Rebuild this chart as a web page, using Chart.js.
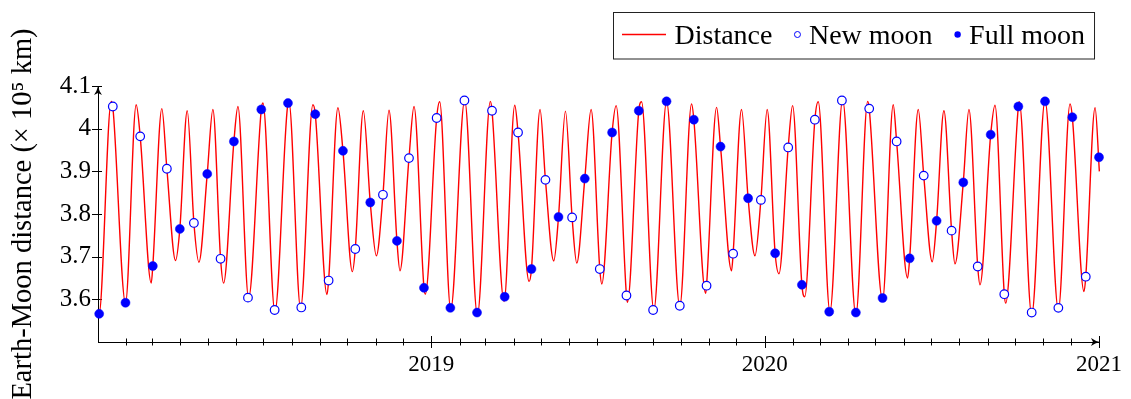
<!DOCTYPE html>
<html>
<head>
<meta charset="utf-8">
<script src="https://cdn.jsdelivr.net/npm/chart.js"></script>
<style>
html, body { margin: 0; padding: 0; background: #fff; }
#wrap { width: 1131px; height: 399px; }
</style>
</head>
<body>
<div id="wrap"><canvas id="chart"></canvas></div>
<script>
// x = days since 1 Jan 2018, y = Earth-Moon distance in 10^5 km
var apogees = [
    [14.5, 4.064], [41.8, 4.056], [69.9, 4.047], [97.7, 4.042], [125.8, 4.045], [153.2, 4.052], [180.6, 4.060], [209, 4.064],
    [235.3, 4.056], [262.7, 4.049], [290.5, 4.042], [318.6, 4.043], [346, 4.052], [374.1, 4.063], [401.5, 4.067], [429.6, 4.064],
    [456.3, 4.055], [484, 4.045], [511.8, 4.041], [539.9, 4.045], [567.3, 4.054], [595.1, 4.063], [622.5, 4.064], [649.9, 4.058],
    [677.3, 4.050], [704.6, 4.045], [732.7, 4.045], [760.5, 4.054], [788.6, 4.063], [815.3, 4.068], [842.7, 4.064], [870.7, 4.056],
    [898.1, 4.045], [926.2, 4.042], [953.6, 4.045], [982.1, 4.055], [1008.7, 4.063], [1036.9, 4.066], [1064.3, 4.058], [1091.7, 4.049]
];
var perigees = [
    [1.0, 3.563], [30.1, 3.591], [58.3, 3.638], [84.9, 3.691], [110.5, 3.687], [137.5, 3.638], [164.9, 3.603], [193.7, 3.571],
    [221.8, 3.579], [250.7, 3.611], [278.5, 3.665], [304.8, 3.702], [330.6, 3.667], [358.4, 3.612], [386.2, 3.576], [415.4, 3.563],
    [444.6, 3.595], [472, 3.642], [499, 3.690], [524.2, 3.685], [551.6, 3.636], [579.7, 3.593], [608.6, 3.575], [637, 3.583],
    [665.3, 3.614], [693.7, 3.667], [719.3, 3.702], [745.6, 3.660], [773.8, 3.606], [801.4, 3.571], [829.8, 3.563], [859, 3.598],
    [886.4, 3.650], [913.4, 3.688], [938.3, 3.683], [965.7, 3.634], [993.8, 3.591], [1022.3, 3.563], [1051.5, 3.575], [1079.6, 3.618]
];
var lineStart = [0, 3.565];
var lineEnd = [1096.4, 3.900];

var newMoons = [
    [16.2, 4.052], [46.2, 3.982], [75.4, 3.906], [105, 3.779], [134.2, 3.695], [164.2, 3.604], [193.4, 3.575], [222.6, 3.581],
    [252.5, 3.644], [281.7, 3.718], [312, 3.845], [340.5, 3.931], [370.8, 4.025], [401.2, 4.066], [431.4, 4.042], [459.9, 3.991],
    [489.9, 3.880], [519.1, 3.792], [549.4, 3.671], [578.6, 3.609], [607.8, 3.575], [637, 3.585], [666.3, 3.632], [695.4, 3.707],
    [725.8, 3.833], [755.7, 3.956], [784.9, 4.021], [814.5, 4.066], [844.4, 4.047], [874.4, 3.970], [904.1, 3.890], [934.6, 3.761],
    [963.2, 3.677], [992.3, 3.612], [1022.3, 3.569], [1051.5, 3.580], [1081.5, 3.653]
];
var fullMoons = [
    [1.3, 3.566], [30.1, 3.592], [60, 3.678], [89.6, 3.765], [119.6, 3.894], [148.8, 3.970], [178.8, 4.045], [208, 4.060],
    [237.9, 4.034], [268.2, 3.948], [298.1, 3.827], [327.3, 3.737], [356.9, 3.627], [385.8, 3.580], [415, 3.569], [445.3, 3.606],
    [474.6, 3.671], [504.2, 3.793], [533, 3.883], [562.9, 3.991], [592.1, 4.042], [622.5, 4.064], [652.4, 4.021], [681.6, 3.958],
    [711.8, 3.837], [741.4, 3.708], [770.7, 3.634], [800.6, 3.571], [829.8, 3.569], [859, 3.603], [888.7, 3.696], [918.2, 3.784],
    [947.4, 3.874], [977.4, 3.986], [1007.7, 4.052], [1036.9, 4.064], [1066.8, 4.027], [1096, 3.933]
];

var yTicks = [3.6, 3.7, 3.8, 3.9, 4.0, 4.1];
var yearTicks = [365, 730, 1096];
var yearLabels = ['2019', '2020', '2021'];
var legendLabels = ['Distance', 'New moon', 'Full moon'];
var yTitle = 'Earth-Moon distance (× 10⁵ km)';

var FONT = '"Liberation Serif", "DejaVu Serif", serif';

// month starts for the small ticks on the time axis
var monthTicks = [];
for (var m = 1; m <= 36; m++) {
    monthTicks.push((Date.UTC(2018, m, 1) - Date.UTC(2018, 0, 1)) / 864e5);
}

// the curve goes through the extrema; moon points on the curve help its shape
var extrema = [lineStart].concat(apogees, perigees, [lineEnd]).sort(function(a, b) { return a[0] - b[0]; });

function fitsCurve(p) {
    for (var i = 0; i < extrema.length - 1; i++) {
        var a = extrema[i], b = extrema[i + 1];
        if (p[0] > a[0] && p[0] < b[0]) {
            if (p[0] - a[0] < 0.8 || b[0] - p[0] < 0.8) return false;
            var lo = Math.min(a[1], b[1]), hi = Math.max(a[1], b[1]);
            return p[1] > lo + 0.004 && p[1] < hi - 0.004;
        }
    }
    return false;
}

function toXY(p) { return { x: p[0], y: p[1] }; }

var distance = extrema.concat(newMoons.filter(fitsCurve), fullMoons.filter(fitsCurve))
    .sort(function(a, b) { return a[0] - b[0]; })
    .map(toXY);

function drawArrow(ctx, x, y, angle) {
    ctx.save();
    ctx.translate(x, y);
    ctx.rotate(angle);
    ctx.beginPath();
    ctx.moveTo(0, 0);
    ctx.quadraticCurveTo(-1, 5, -4, 9);
    ctx.lineTo(0, 7);
    ctx.lineTo(4, 9);
    ctx.quadraticCurveTo(1, 5, 0, 0);
    ctx.closePath();
    ctx.fill();
    ctx.restore();
}

var axisDecor = {
    id: 'axisDecor',
    beforeDatasetsDraw: function(chart) {
        var ctx = chart.ctx, xs = chart.scales.x, ys = chart.scales.y, area = chart.chartArea;
        var y0 = area.bottom, x0 = area.left;
        ctx.save();
        ctx.strokeStyle = '#000';
        ctx.fillStyle = '#000';
        ctx.lineWidth = 1;
        ctx.beginPath();
        monthTicks.forEach(function(d) {
            var px = Math.round(xs.getPixelForValue(d)) + 0.5;
            var h = yearTicks.indexOf(d) >= 0 ? 6 : 3.5;
            ctx.moveTo(px, y0 - h);
            ctx.lineTo(px, y0 + h);
        });
        yTicks.forEach(function(v) {
            var py = Math.round(ys.getPixelForValue(v)) + 0.5;
            ctx.moveTo(x0 - 6, py);
            ctx.lineTo(x0 + 4, py);
        });
        ctx.stroke();
        drawArrow(ctx, x0, area.top, 0);
        drawArrow(ctx, area.right + 1, y0, Math.PI / 2);
        ctx.restore();
    }
};

var legendBox = {
    id: 'legendBox',
    afterDraw: function(chart) {
        var ctx = chart.ctx;
        ctx.save();
        ctx.font = '28px ' + FONT;
        var widths = legendLabels.map(function(t) { return ctx.measureText(t).width; });
        var left = 613, top = 12, h = 46.5, cy = 34.5, base = 43.5;
        var pad = 9, lineLen = 44, dot = 6, gapSym = 8.5, gapItem = 22;
        var x = left + pad;

        // Distance
        ctx.strokeStyle = '#ff0000';
        ctx.lineWidth = 1.3;
        ctx.beginPath();
        ctx.moveTo(x, cy);
        ctx.lineTo(x + lineLen, cy);
        ctx.stroke();
        x += lineLen + gapSym;
        ctx.fillStyle = '#000';
        ctx.textBaseline = 'alphabetic';
        ctx.fillText(legendLabels[0], x, base);
        x += widths[0] + gapItem;

        // New moon
        ctx.beginPath();
        ctx.arc(x + dot / 2, cy, 3, 0, Math.PI * 2);
        ctx.fillStyle = '#fff';
        ctx.fill();
        ctx.strokeStyle = '#0000ff';
        ctx.lineWidth = 1;
        ctx.stroke();
        x += dot + gapSym;
        ctx.fillStyle = '#000';
        ctx.fillText(legendLabels[1], x, base);
        x += widths[1] + gapItem;

        // Full moon
        ctx.beginPath();
        ctx.arc(x + dot / 2, cy, 3.2, 0, Math.PI * 2);
        ctx.fillStyle = '#0000ff';
        ctx.fill();
        x += dot + gapSym;
        ctx.fillStyle = '#000';
        ctx.fillText(legendLabels[2], x, base);
        x += widths[2] + pad;

        ctx.strokeStyle = '#222';
        ctx.lineWidth = 1;
        ctx.strokeRect(left + 0.5, top + 0.5, x - left, h);
        ctx.restore();
    }
};

new Chart(document.getElementById('chart'), {
    type: 'line',
    data: {
        datasets: [{
            label: 'Full moon',
            data: fullMoons.map(toXY),
            showLine: false,
            pointRadius: 4.5,
            pointBackgroundColor: '#0000ff',
            pointBorderColor: '#0000ff',
            pointBorderWidth: 0.5,
            order: 1,
            clip: false
        }, {
            label: 'New moon',
            data: newMoons.map(toXY),
            showLine: false,
            pointRadius: 4.3,
            pointBackgroundColor: '#ffffff',
            pointBorderColor: '#0000ff',
            pointBorderWidth: 1.2,
            order: 2,
            clip: false
        }, {
            label: 'Distance',
            data: distance,
            borderColor: '#ff0000',
            borderWidth: 1.4,
            pointRadius: 0,
            cubicInterpolationMode: 'monotone',
            order: 3,
            clip: false
        }]
    },
    options: {
        responsive: true,
        maintainAspectRatio: false,
        animation: false,
        layout: { padding: { top: 86, right: 32, left: 0, bottom: 0 } },
        plugins: {
            legend: { display: false },
            tooltip: { enabled: false }
        },
        scales: {
            x: {
                type: 'linear',
                min: 0,
                max: 1096,
                grid: { display: false, drawTicks: false },
                border: { display: true, color: '#000', width: 1 },
                afterBuildTicks: function(s) {
                    s.ticks = yearTicks.map(function(v) { return { value: v }; });
                },
                afterFit: function(s) { s.height = 57; },
                ticks: {
                    autoSkip: false,
                    maxRotation: 0,
                    padding: 9,
                    color: '#000',
                    font: { family: FONT, size: 23 },
                    callback: function(v) {
                        var i = yearTicks.indexOf(v);
                        return i < 0 ? '' : yearLabels[i];
                    }
                }
            },
            y: {
                min: 3.5,
                max: 4.1,
                grid: { display: false, drawTicks: false },
                border: { display: true, color: '#000', width: 1 },
                afterBuildTicks: function(s) {
                    s.ticks = yTicks.map(function(v) { return { value: v }; });
                },
                afterFit: function(s) { s.width = 98; },
                ticks: {
                    padding: 7,
                    color: '#000',
                    font: { family: FONT, size: 25 },
                    callback: function(v) { return String(+v.toFixed(1)); }
                },
                title: {
                    display: true,
                    text: yTitle,
                    color: '#000',
                    font: { family: FONT, size: 28.5 },
                    padding: { top: 6, bottom: 0 }
                }
            }
        }
    },
    plugins: [axisDecor, legendBox]
});
</script>
</body>
</html>
